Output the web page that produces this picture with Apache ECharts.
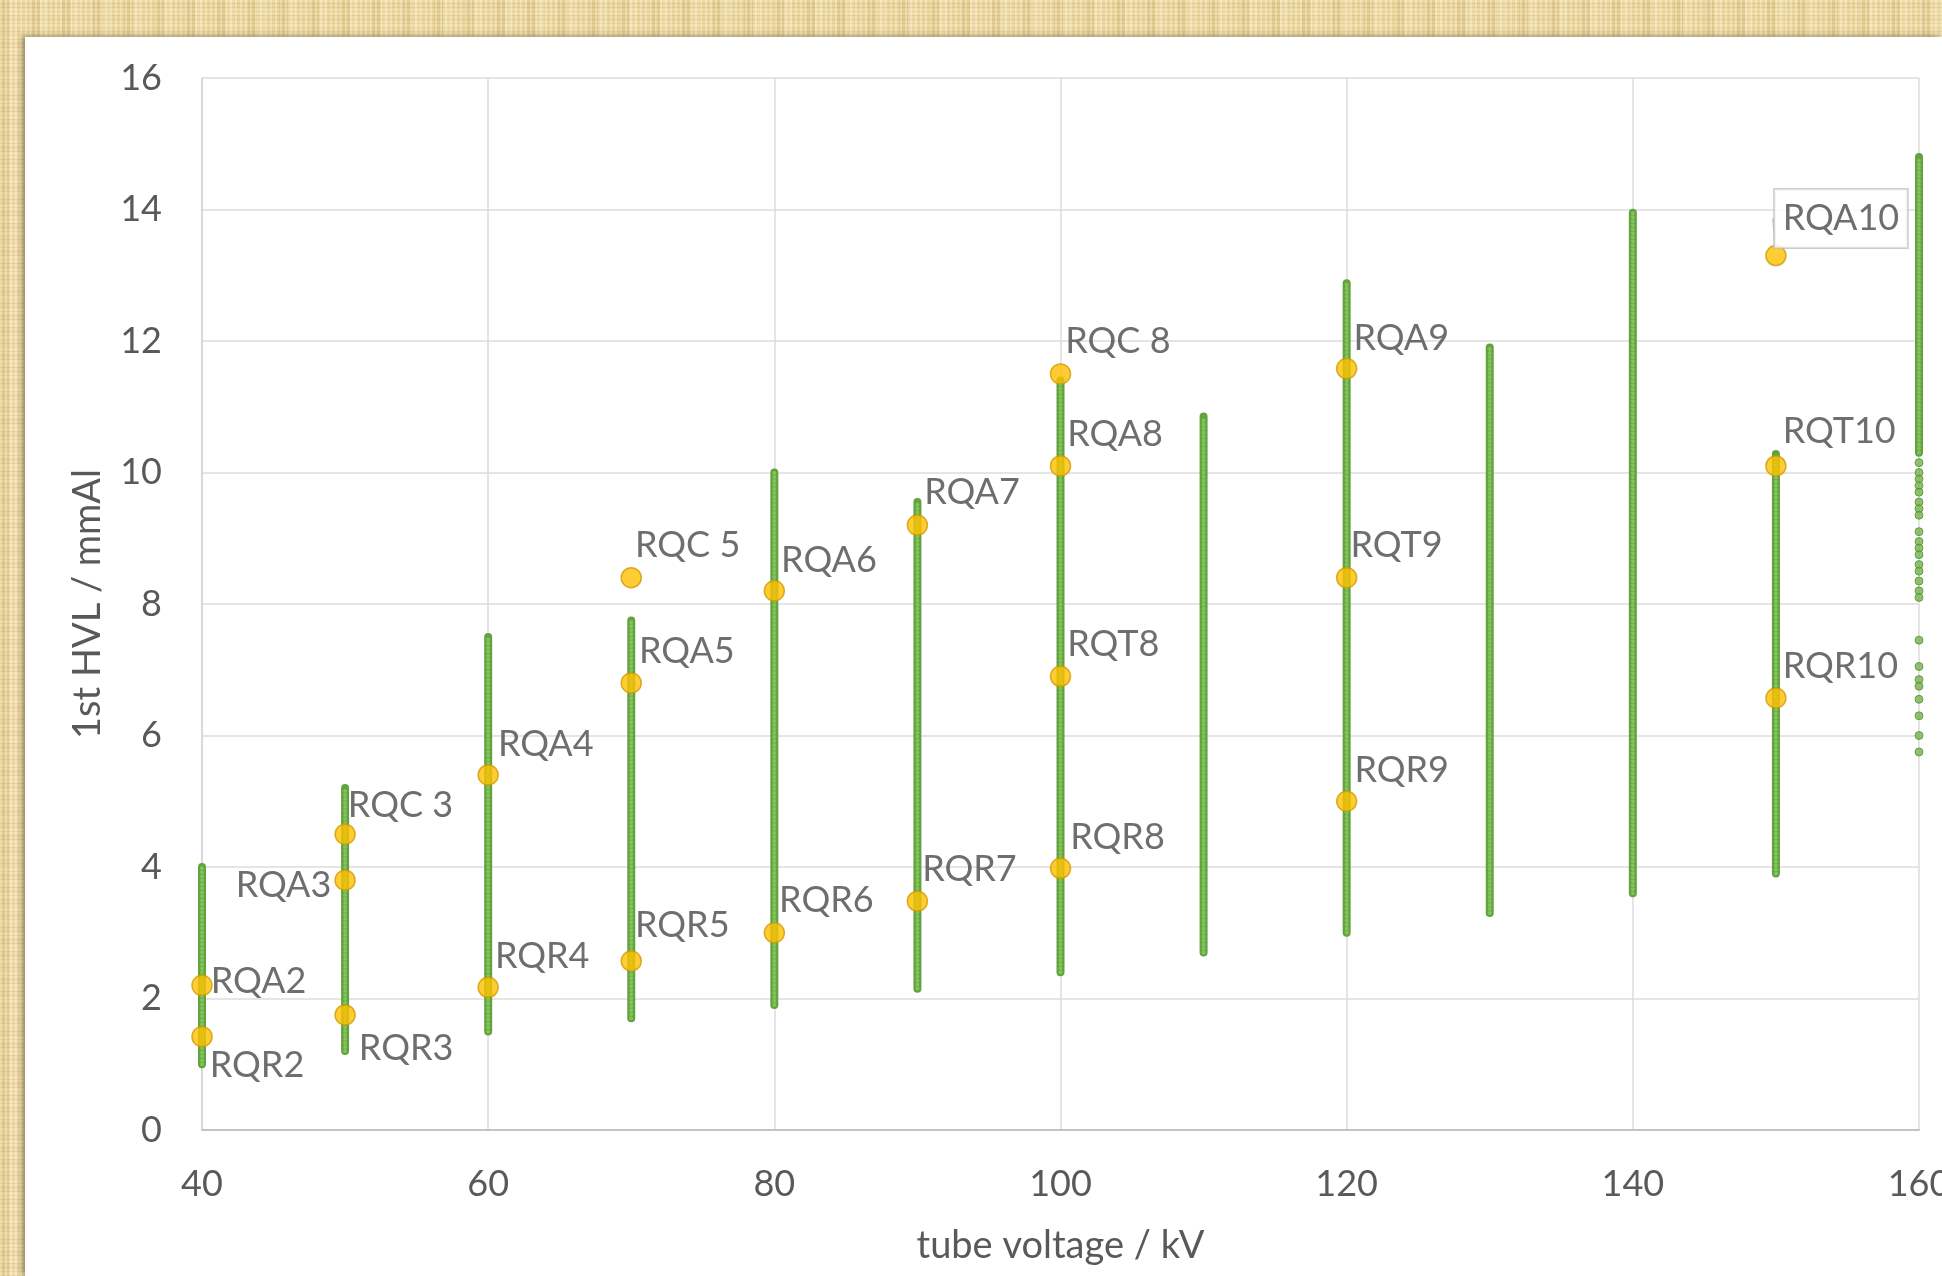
<!DOCTYPE html>
<html>
<head>
<meta charset="utf-8">
<script src="https://cdn.jsdelivr.net/npm/echarts@6/dist/echarts.min.js"></script>
<style>
  html, body { margin: 0; padding: 0; }
  body {
    width: 1942px; height: 1276px; overflow: hidden; position: relative;
    background-color: #e8d39a;
    background-image:
      repeating-linear-gradient(90deg, rgba(255,250,225,0.35) 0 2px, rgba(0,0,0,0) 2px 5px),
      repeating-linear-gradient(0deg, rgba(150,110,40,0.14) 0 1px, rgba(0,0,0,0) 1px 4px),
      repeating-linear-gradient(90deg, rgba(170,130,50,0.12) 0 9px, rgba(255,245,210,0.18) 9px 17px, rgba(0,0,0,0) 17px 31px),
      repeating-linear-gradient(0deg, rgba(255,245,210,0.2) 0 6px, rgba(0,0,0,0) 6px 13px);
  }
  #card {
    position: absolute; left: 25px; top: 37px; right: 0; bottom: 0;
    background: #ffffff;
    box-shadow: -3px -1px 5px rgba(60,50,30,0.45);
  }
  #chart { position: absolute; left: 0; top: 0; width: 1942px; height: 1276px; }
</style>
</head>
<body>
<div id="card"></div>
<div id="chart"></div>
<script>
// ---- data ----
const voltages = [40, 50, 60, 70, 80, 90, 100, 110, 120, 130, 140, 150, 160];
// dense range of measured 1st HVL at each tube voltage (mmAl)
const bandMin  = [1.0, 1.2, 1.5, 1.7, 1.9, 2.15, 2.4, 2.7, 3.0, 3.3, 3.6, 3.9, 10.3];
const bandMax  = [4.0, 5.2, 7.5, 7.75, 10.0, 9.55, 11.4, 10.85, 12.88, 11.9, 13.95, 10.28, 14.8];
// isolated points in the lower part of the 160 kV column
const sparse160 = [10.15, 10.0, 9.9, 9.8, 9.7, 9.55, 9.45, 9.35, 9.1, 8.95, 8.85, 8.75, 8.6, 8.5,
                   8.35, 8.2, 8.1, 7.45, 7.05, 6.85, 6.75, 6.55, 6.3, 6.0, 5.75];

// radiation qualities
const qualityNames = ['RQR2','RQA2','RQR3','RQA3','RQC 3','RQR4','RQA4','RQR5','RQA5','RQC 5',
                      'RQR6','RQA6','RQR7','RQA7','RQR8','RQT8','RQA8','RQC 8','RQR9','RQT9',
                      'RQA9','RQR10','RQT10','RQA10'];
const qualityKV    = [40, 40, 50, 50, 50, 60, 60, 70, 70, 70,
                      80, 80, 90, 90, 100, 100, 100, 100, 120, 120,
                      120, 150, 150, 150];
const qualityHVL   = [1.42, 2.2, 1.75, 3.8, 4.5, 2.17, 5.4, 2.57, 6.8, 8.4,
                      3.0, 8.2, 3.48, 9.2, 3.98, 6.9, 10.1, 11.5, 5.0, 8.4,
                      11.58, 6.57, 10.1, 13.3];

// ---- label placement (styling only) ----
const labelPlace = {
  'RQR2':  { pos: 'right', off: [-3, 29] },
  'RQA2':  { pos: 'right', off: [-2, -4] },
  'RQR3':  { pos: 'right', off: [3, 33] },
  'RQA3':  { pos: 'left',  off: [-3, 5] },
  'RQC 3': { pos: 'right', off: [-8, -29] },
  'RQR4':  { pos: 'right', off: [-4, -31] },
  'RQA4':  { pos: 'right', off: [-1, -31] },
  'RQR5':  { pos: 'right', off: [-7, -36] },
  'RQA5':  { pos: 'right', off: [-3, -32] },
  'RQC 5': { pos: 'right', off: [-7, -32] },
  'RQR6':  { pos: 'right', off: [-6, -32] },
  'RQA6':  { pos: 'right', off: [-4, -30] },
  'RQR7':  { pos: 'right', off: [-6, -32] },
  'RQA7':  { pos: 'right', off: [-4, -33] },
  'RQR8':  { pos: 'right', off: [-1, -31] },
  'RQT8':  { pos: 'right', off: [-4, -32] },
  'RQA8':  { pos: 'right', off: [-4, -32] },
  'RQC 8': { pos: 'right', off: [-6, -32] },
  'RQR9':  { pos: 'right', off: [-3, -31] },
  'RQT9':  { pos: 'right', off: [-7, -32] },
  'RQA9':  { pos: 'right', off: [-4, -30] },
  'RQR10': { pos: 'right', off: [-4, -32] },
  'RQT10': { pos: 'right', off: [-4, -35] }
};

const FONT = 'Lato';
const series = [];

// green columns: outline + lighter dotted core
voltages.forEach(function (kv, i) {
  const seg = [[kv, bandMin[i]], [kv, bandMax[i]]];
  series.push({
    type: 'line', data: seg, showSymbol: false, silent: true, animation: false, z: 2,
    lineStyle: { color: '#62a33d', width: 8, cap: 'round' }
  });
  series.push({
    type: 'line', data: seg, showSymbol: false, silent: true, animation: false, z: 3,
    lineStyle: { color: '#82c25c', width: 4, type: [0, 4], cap: 'round' }
  });
});

series.push({
  type: 'scatter', silent: true, animation: false, z: 3,
  data: sparse160.map(function (v) { return [160, v]; }),
  symbolSize: 8,
  itemStyle: { color: '#74b24c', borderColor: '#55912f', borderWidth: 1 }
});

// labelled quality points
const mainPts = [];
const boxPts = [];
qualityNames.forEach(function (n, i) {
  const item = { name: n, value: [qualityKV[i], qualityHVL[i]] };
  if (labelPlace[n]) {
    item.label = { position: labelPlace[n].pos, offset: labelPlace[n].off };
    mainPts.push(item);
  } else {
    boxPts.push(item);
  }
});

const yellow = { color: '#ffc000', borderColor: '#d29b00', borderWidth: 1.5 };

series.push({
  type: 'scatter', animation: false, z: 5, symbolSize: 20,
  itemStyle: yellow,
  data: mainPts,
  label: {
    show: true, distance: 0, formatter: '{b}',
    fontFamily: FONT, fontSize: 36, color: '#4a4a4a'
  }
});

series.push({
  type: 'scatter', animation: false, z: 5, symbolSize: 20,
  itemStyle: yellow,
  data: boxPts,
  label: {
    show: true, position: 'right', distance: 5, formatter: '{b}',
    fontFamily: FONT, fontSize: 36, color: '#4a4a4a',
    backgroundColor: '#ffffff', borderColor: '#bfbfbf', borderWidth: 1.5,
    padding: [9, 8, 9, 8], lineHeight: 40
  },
  labelLayout: { dx: -17, dy: -37 },
  labelLine: { show: true, showAbove: true, lineStyle: { color: '#bfbfbf', width: 2 } }
});

const chart = echarts.init(document.getElementById('chart'), null, { renderer: 'canvas' });
chart.setOption({
  backgroundColor: 'transparent',
  animation: false,
  textStyle: { fontFamily: FONT },
  grid: { left: 202, top: 78, right: 23, bottom: 146, containLabel: false, outerBoundsMode: 'none' },
  xAxis: {
    type: 'value', min: 40, max: 160, interval: 20,
    name: 'tube voltage / kV', nameLocation: 'middle', nameGap: 97,
    nameTextStyle: { fontFamily: FONT, fontSize: 38, color: '#595959' },
    axisLine: { show: true, lineStyle: { color: '#c4c4c4', width: 2 } },
    axisTick: { show: false },
    axisLabel: { fontFamily: FONT, fontSize: 36, color: '#595959', margin: 36 },
    splitLine: { show: true, lineStyle: { color: '#dcdcdc', width: 1.5 } }
  },
  yAxis: {
    type: 'value', min: 0, max: 16, interval: 2,
    name: '1st HVL / mmAl', nameLocation: 'middle', nameGap: 95,
    nameTextStyle: { fontFamily: FONT, fontSize: 38, color: '#595959' },
    axisLine: { show: true, lineStyle: { color: '#d4d4d4', width: 1.5 } },
    axisTick: { show: false },
    axisLabel: { fontFamily: FONT, fontSize: 36, color: '#595959', margin: 40 },
    splitLine: { show: true, lineStyle: { color: '#dcdcdc', width: 1.5 } }
  },
  series: series
});
</script>
</body>
</html>
